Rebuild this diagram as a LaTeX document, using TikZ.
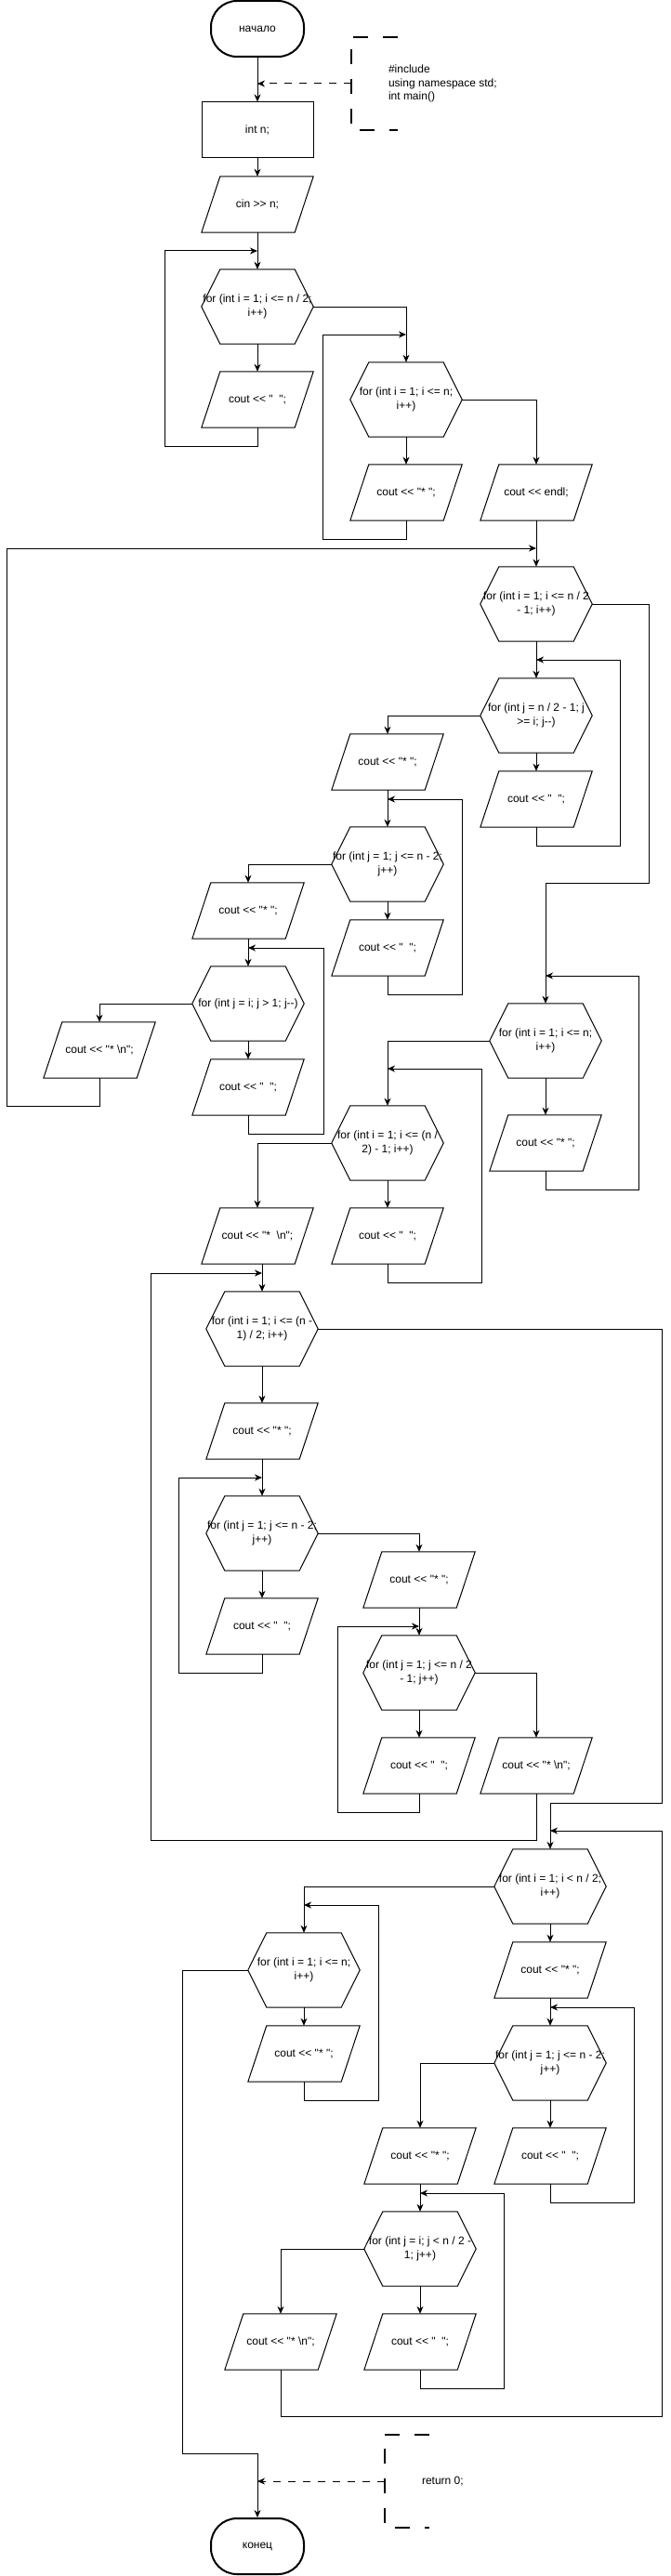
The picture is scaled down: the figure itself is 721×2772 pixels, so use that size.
\documentclass[tikz,border=0pt]{standalone}
\usepackage{fontspec}
\newfontfamily\flowfont{Liberation Sans}
\usetikzlibrary{arrows.meta, positioning}

\begin{document}
\begin{tikzpicture}[
    x=1pt, y=-1pt,
    font=\flowfont\fontsize{12pt}{14.5pt}\selectfont,
    terminal/.style={rectangle, draw, line width=2pt, rounded corners=28pt, minimum width=100pt, minimum height=60pt, align=center},
    procbox/.style={rectangle, draw, line width=1pt, minimum width=120pt, minimum height=60pt, align=center},
    iobox/.style={rectangle, minimum width=120pt, minimum height=60pt, inner sep=0pt, align=center},
    forbox/.style={rectangle, minimum width=120pt, minimum height=80pt, inner sep=0pt, align=center},
    outline/.style={draw, line width=1pt},
    arrow/.style={-{Stealth[length=8pt, width=7pt, inset=2.5pt]}, line width=1pt},
    hint/.style={-{Stealth[length=8pt, width=7pt, inset=2.5pt]}, line width=1pt, dash pattern=on 8pt off 8pt},
    bracket/.style={line width=2pt, dash pattern=on 16pt off 16pt},
    note/.style={align=left, anchor=west, inner sep=0pt}
]
\useasboundingbox (0,0) rectangle (721,2772);

% Start and input
\node[terminal] (start) at (277,31) {начало};
\node[procbox] (decl) at (277,140) {int n;};
\node[iobox] (cin) at (277,220) {cin >> n;};

% Header comment
\node[minimum width=50pt, minimum height=100pt, inner sep=0pt] (head) at (403,90) {};
\draw[bracket] (head.north east) -- (head.north west) -- (head.south west) -- (head.south east);
\node[note] (headtxt) at ([xshift=40pt]head.west) {\#include\\using namespace std;\\int main()};

% Upper triangle
\node[forbox] (for1) at (277,330) {for (int i = 1; i <= n / 2;\\ i++)};
\node[iobox] (out1) at (277,430) {cout << "\ \ ";};
\node[forbox] (for2) at (437,430) {for (int i = 1; i <= n;\\ i++)};
\node[iobox] (out2) at (437,530) {cout << "*\ ";};
\node[iobox] (endl) at (577,530) {cout << endl;};

% Middle block
\node[forbox] (for3) at (577,650) {for (int i = 1; i <= n / 2\\ - 1; i++)};
\node[forbox] (for4) at (577,770) {for (int j = n / 2 - 1; j\\ >= i; j-{}-)};
\node[iobox] (out3) at (577,860) {cout << "\ \ ";};
\node[iobox] (out4) at (417,820) {cout << "*\ ";};
\node[forbox] (for5) at (417,930) {for (int j = 1; j <= n - 2;\\ j++)};
\node[iobox] (out5) at (417,1020) {cout << "\ \ ";};
\node[iobox] (out6) at (267,980) {cout << "*\ ";};
\node[forbox] (for6) at (267,1080) {for (int j = i; j > 1; j-{}-)};
\node[iobox] (out7) at (267,1170) {cout << "\ \ ";};
\node[iobox] (out8) at (107,1130) {cout << "*\ \textbackslash n";};

\node[forbox] (for7) at (587,1120) {for (int i = 1; i <= n;\\ i++)};
\node[iobox] (out9) at (587,1230) {cout << "*\ ";};
\node[forbox] (for8) at (417,1230) {for (int i = 1; i <= (n /\\ 2) - 1; i++)};
\node[iobox] (out10) at (417,1330) {cout << "\ \ ";};
\node[iobox] (out11) at (277,1330) {cout << "*\ \ \textbackslash n";};

% Lower block
\node[forbox] (for9) at (282,1430) {for (int i = 1; i <= (n -\\ 1) / 2; i++)};
\node[iobox] (out12) at (282,1540) {cout << "*\ ";};
\node[forbox] (for10) at (282,1650) {for (int j = 1; j <= n - 2;\\ j++)};
\node[iobox] (out13) at (282,1750) {cout << "\ \ ";};
\node[iobox] (out14) at (451,1700) {cout << "*\ ";};
\node[forbox] (for11) at (451,1800) {for (int j = 1; j <= n / 2\\ - 1; j++)};
\node[iobox] (out15) at (451,1900) {cout << "\ \ ";};
\node[iobox] (out16) at (577,1900) {cout << "*\ \textbackslash n";};

% Bottom triangle
\node[forbox] (for12) at (592,2030) {for (int i = 1; i < n / 2;\\ i++)};
\node[iobox] (out17) at (592,2120) {cout << "*\ ";};
\node[forbox] (for13) at (327,2120) {for (int i = 1; i <= n;\\ i++)};
\node[iobox] (out18) at (327,2210) {cout << "*\ ";};
\node[forbox] (for14) at (592,2220) {for (int j = 1; j <= n - 2;\\ j++)};
\node[iobox] (out19) at (592,2320) {cout << "\ \ ";};
\node[iobox] (out20) at (452,2320) {cout << "*\ ";};
\node[forbox] (for15) at (452,2420) {for (int j = i; j < n / 2 -\\ 1; j++)};
\node[iobox] (out21) at (452,2520) {cout << "\ \ ";};
\node[iobox] (out22) at (302,2520) {cout << "*\ \textbackslash n";};

% End
\node[terminal] (stop) at (277,2740) {конец};
\node[minimum width=48pt, minimum height=100pt, inner sep=0pt] (tail) at (438,2670) {};
\draw[bracket] (tail.north east) -- (tail.north west) -- (tail.south west) -- (tail.south east);
\node[note] (tailtxt) at ([xshift=40pt]tail.west) {return 0;};

% Shape outlines
\foreach \n in {cin,out1,out2,endl,out3,out4,out5,out6,out7,out8,out9,out10,out11,out12,out13,out14,out15,out16,out17,out18,out19,out20,out21,out22}
    \draw[outline] ([xshift=20pt]\n.north west) -- (\n.north east) -- ([xshift=-20pt]\n.south east) -- (\n.south west) -- cycle;
\foreach \n in {1,...,15}
    \draw[outline] ([xshift=20pt]for\n.north west) -- ([xshift=-20pt]for\n.north east) -- (for\n.east)
        -- ([xshift=-20pt]for\n.south east) -- ([xshift=20pt]for\n.south west) -- (for\n.west) -- cycle;

% Junction points
\coordinate (j0) at (277,90);
\coordinate (j1) at (277,270);
\coordinate (j2) at (437,360);
\coordinate (j3) at (577,590);
\coordinate (j4) at (577,710);
\coordinate (j5) at (417,860);
\coordinate (j6) at (267,1020);
\coordinate (j7) at (587,1050);
\coordinate (j8) at (417,1150);
\coordinate (j9) at (282,1370);
\coordinate (j10) at (282,1590);
\coordinate (j11) at (451,1750);
\coordinate (j12) at (592,2160);
\coordinate (j13) at (327,2050);
\coordinate (j14) at (452,2360);
\coordinate (j15) at (592,1970);
\coordinate (j16) at (277,2670);

% Comment links
\draw[hint] (head.west) -- (j0);
\draw[hint] (tail.west) -- (j16);

% Arrows
\draw[arrow] (start) -- (decl);
\draw[arrow] (decl) -- (cin);
\draw[arrow] (cin) -- (for1);
\draw[arrow] (for1) -- (out1);
\draw[arrow] (out1.south) -- ++(0,20) -- ++(-100,0) |- (j1);
\draw[arrow] (for1.east) -| (for2.north);
\draw[arrow] (for2) -- (out2);
\draw[arrow] (out2.south) -- ++(0,20) -- ++(-90,0) |- (j2);
\draw[arrow] (for2.east) -| (endl.north);
\draw[arrow] (endl) -- (for3);

\draw[arrow] (for3.east) -- ++(61,0) -- ++(0,300) -| (for7.north);
\draw[arrow] (for3) -- (for4);
\draw[arrow] (for4.west) -| (out4.north);
\draw[arrow] (for4) -- (out3);
\draw[arrow] (out3.south) -- ++(0,20) -- ++(90,0) |- (j4);
\draw[arrow] (out4) -- (for5);
\draw[arrow] (for5.west) -| (out6.north);
\draw[arrow] (for5) -- (out5);
\draw[arrow] (out5.south) -- ++(0,20) -- ++(80,0) |- (j5);
\draw[arrow] (out6) -- (for6);
\draw[arrow] (for6.west) -| (out8.north);
\draw[arrow] (for6) -- (out7);
\draw[arrow] (out7.south) -- ++(0,20) -- ++(81,0) |- (j6);
\draw[arrow] (out8.south) -- ++(0,30) -- ++(-100,0) |- (j3);

\draw[arrow] (for7.west) -| (for8.north);
\draw[arrow] (for7) -- (out9);
\draw[arrow] (out9.south) -- ++(0,20) -- ++(100,0) |- (j7);
\draw[arrow] (for8.west) -| (out11.north);
\draw[arrow] (for8) -- (out10);
\draw[arrow] (out10.south) -- ++(0,20) -- ++(101,0) |- (j8);
\draw[arrow] (out11.south -| for9.north) -- (for9.north);

\draw[arrow] (for9.east) -- ++(370,0) -- ++(0,510) -| (for12.north);
\draw[arrow] (for9) -- (out12);
\draw[arrow] (out12) -- (for10);
\draw[arrow] (for10.east) -| (out14.north);
\draw[arrow] (for10) -- (out13);
\draw[arrow] (out13.south) -- ++(0,20) -- ++(-90,0) |- (j10);
\draw[arrow] (out14) -- (for11);
\draw[arrow] (for11.east) -| (out16.north);
\draw[arrow] (for11) -- (out15);
\draw[arrow] (out15.south) -- ++(0,20) -- ++(-88,0) |- (j11);
\draw[arrow] (out16.south) -- ++(0,50) -- ++(-415,0) |- (j9);

\draw[arrow] (for12.west) -| (for13.north);
\draw[arrow] (for12) -- (out17);
\draw[arrow] (out17) -- (for14);
\draw[arrow] (for13) -- (out18);
\draw[arrow] (out18.south) -- ++(0,20) -- ++(80,0) |- (j13);
\draw[arrow] (for13.west) -- ++(-70,0) -- ++(0,520) -| (stop.north);
\draw[arrow] (for14.west) -| (out20.north);
\draw[arrow] (for14) -- (out19);
\draw[arrow] (out19.south) -- ++(0,20) -- ++(90,0) |- (j12);
\draw[arrow] (out20) -- (for15);
\draw[arrow] (for15.west) -| (out22.north);
\draw[arrow] (for15) -- (out21);
\draw[arrow] (out21.south) -- ++(0,20) -- ++(90,0) |- (j14);
\draw[arrow] (out22.south) -- ++(0,50) -- ++(410,0) |- (j15);

\end{tikzpicture}
\end{document}
